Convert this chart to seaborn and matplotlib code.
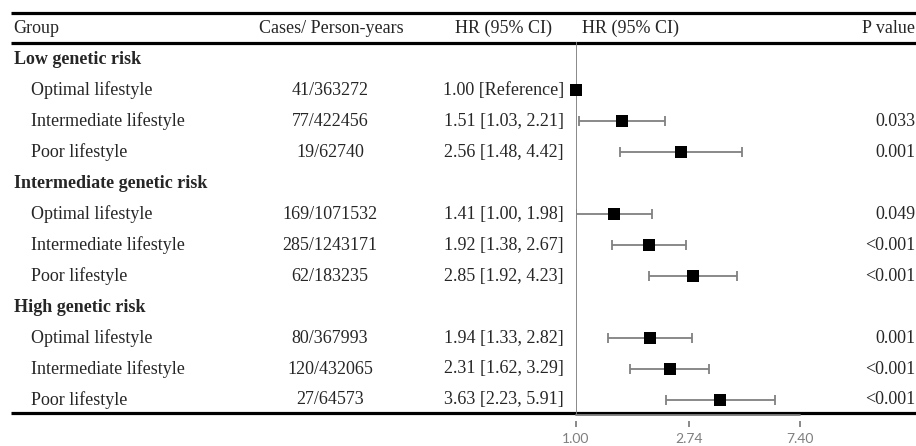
import numpy as np
import pandas as pd
import seaborn as sns
import matplotlib.pyplot as plt

groups = ["Low genetic risk", "Intermediate genetic risk", "High genetic risk"]
lifestyles = ["Optimal lifestyle", "Intermediate lifestyle", "Poor lifestyle"]
cases = ["41/363272", "77/422456", "19/62740",
         "169/1071532", "285/1243171", "62/183235",
         "80/367993", "120/432065", "27/64573"]
hr = [1.00, 1.51, 2.56, 1.41, 1.92, 2.85, 1.94, 2.31, 3.63]
ci_low = [np.nan, 1.03, 1.48, 1.00, 1.38, 1.92, 1.33, 1.62, 2.23]
ci_high = [np.nan, 2.21, 4.42, 1.98, 2.67, 4.23, 2.82, 3.29, 5.91]
p_values = ["", "0.033", "0.001", "0.049", "<0.001", "<0.001",
            "0.001", "<0.001", "<0.001"]
tick_values = [1.00, 2.74, 7.40]
tick_labels = ["1.00", "2.74", "7.40"]

W, H = 916, 446
ROW0, STEP = 59.5, 30.95
GRAY = "#808080"

sns.set_theme(style="white")
plt.rcParams["font.family"] = ["Liberation Serif", "DejaVu Serif"]
FS = 13

fig = plt.figure(figsize=(W / 100, H / 100), dpi=100)

# full-figure axes in pixel units for the table text and rules
tab = fig.add_axes([0, 0, 1, 1])
tab.set_xlim(0, W)
tab.set_ylim(H, 0)
tab.axis("off")

# build the row table
rows = []
for g, name in enumerate(groups):
    rows.append({"kind": "group", "label": name, "y": ROW0 + STEP * (4 * g)})
    for k, life in enumerate(lifestyles):
        j = 3 * g + k
        rows.append({"kind": "item", "label": life,
                     "y": ROW0 + STEP * (4 * g + 1 + k),
                     "cases": cases[j], "hr": hr[j],
                     "lo": ci_low[j], "hi": ci_high[j], "p": p_values[j]})
df = pd.DataFrame(rows)
items = df[df["kind"] == "item"].copy()

# header
hy = 28.5
tab.text(13, hy, "Group", fontsize=FS, va="center", ha="left")
tab.text(331, hy, "Cases/ Person-years", fontsize=FS, va="center", ha="center")
tab.text(552, hy, "HR (95% CI)", fontsize=FS, va="center", ha="right")
tab.text(582, hy, "HR (95% CI)", fontsize=FS, va="center", ha="left")
tab.text(915, hy, "P value", fontsize=FS, va="center", ha="right")

for _, r in df.iterrows():
    if r["kind"] == "group":
        tab.text(14, r["y"], r["label"], fontsize=FS, fontweight="bold",
                 va="center", ha="left")
        continue
    tab.text(31, r["y"], r["label"], fontsize=FS, va="center", ha="left")
    tab.text(330, r["y"], r["cases"], fontsize=FS, va="center", ha="center")
    if np.isnan(r["lo"]):
        hr_txt = f"{r['hr']:.2f} [Reference]"
    else:
        hr_txt = f"{r['hr']:.2f} [{r['lo']:.2f}, {r['hi']:.2f}]"
    tab.text(564, r["y"], hr_txt, fontsize=FS, va="center", ha="right")
    tab.text(915, r["y"], r["p"], fontsize=FS, va="center", ha="right")

# thick rules
for y in [12.5, 42.5, 413]:
    tab.plot([11, W], [y, y], color="black", lw=2.3, solid_capstyle="butt")

# forest plot axes
x0, x1 = 576, 800
ybot, ytop = 415, 42
ax = fig.add_axes([x0 / W, (H - ybot) / H, (x1 - x0) / W, (ybot - ytop) / H])
ax.set_xscale("log")
ax.set_xlim(tick_values[0], tick_values[-1])
ax.set_ylim(ybot, ytop)
ax.patch.set_alpha(0)

ax.axvline(1.0, color=GRAY, lw=1.3, zorder=1)
ax.axhline(ybot, color=GRAY, lw=1.3, clip_on=False, zorder=1)

ci = items.dropna(subset=["lo"])
ax.errorbar(ci["hr"], ci["y"],
            xerr=[ci["hr"] - ci["lo"], ci["hi"] - ci["hr"]],
            fmt="none", ecolor=GRAY, elinewidth=1.3, capsize=3.5,
            capthick=1.3, zorder=2)
sns.scatterplot(data=items, x="hr", y="y", marker="s", s=82, color="black",
                edgecolor="black", linewidth=0, ax=ax, zorder=3, clip_on=False,
                legend=False)

for s in ["top", "right", "left"]:
    ax.spines[s].set_visible(False)
ax.spines["bottom"].set_position(("outward", 4))
ax.spines["bottom"].set_visible(False)
ax.set_yticks([])
ax.set_xticks(tick_values)
ax.set_xticklabels(tick_labels, family=["Lato", "DejaVu Sans"], fontsize=10,
                   color="#7f7f7f")
ax.minorticks_off()
ax.tick_params(axis="x", bottom=True, length=4, width=1.3, color=GRAY,
               direction="out", pad=5)
ax.set_xlabel("")
ax.set_ylabel("")

fig.savefig("out.png", dpi=100)
